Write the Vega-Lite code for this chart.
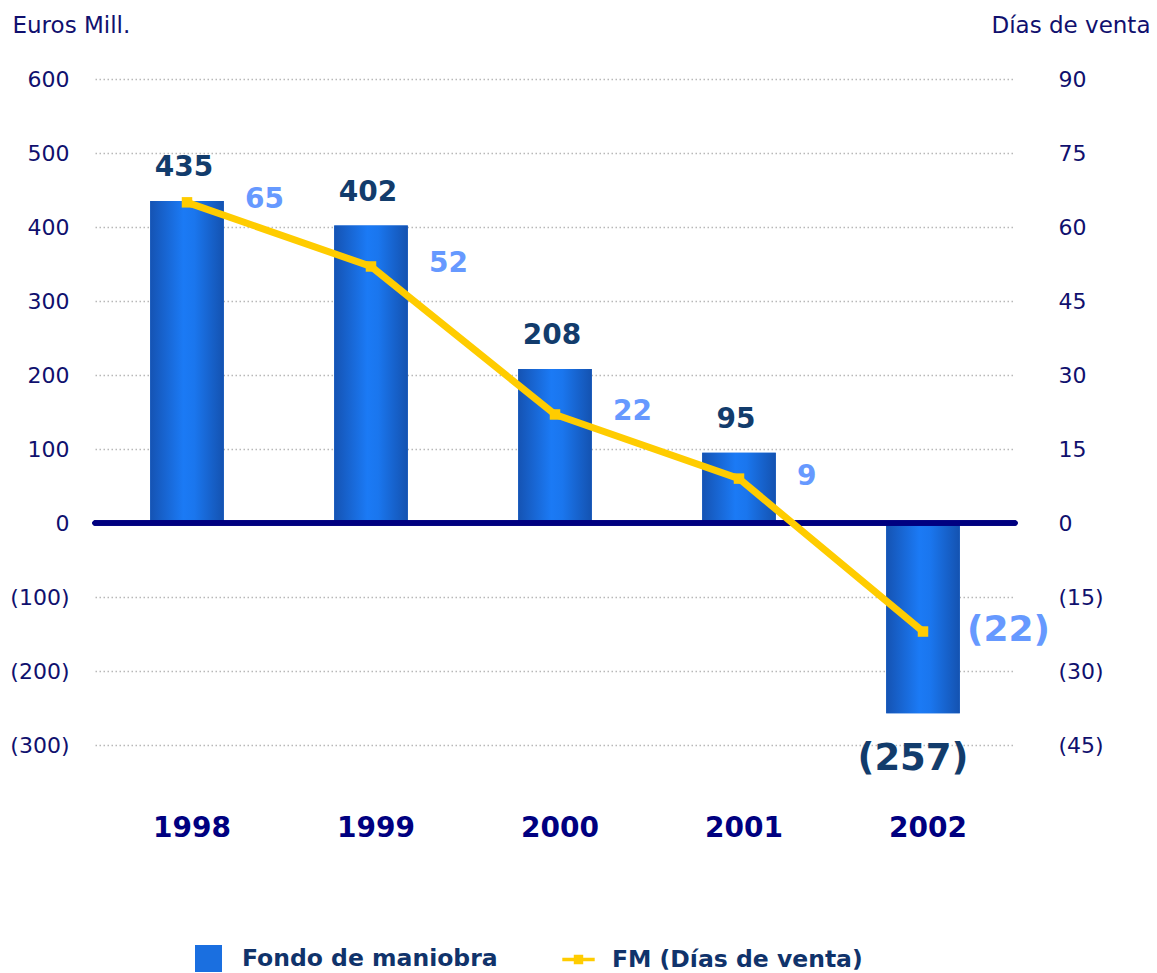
{
  "$schema": "https://vega.github.io/schema/vega-lite/v6.json",
  "width": 920,
  "height": 666,
  "autosize": {"type": "none"},
  "padding": {"left": 95, "top": 79, "right": 142, "bottom": 228},
  "background": "white",
  "config": {"view": {"stroke": null}, "font": "DejaVu Sans"},
  "data": {"values": [
    {"year": "1998", "fm": 435, "dias": 65},
    {"year": "1999", "fm": 402, "dias": 52},
    {"year": "2000", "fm": 208, "dias": 22},
    {"year": "2001", "fm": 95, "dias": 9},
    {"year": "2002", "fm": -257, "dias": -22}
  ]},
  "resolve": {"scale": {"y": "independent"}},
  "layer": [
    {
      "layer": [
        {
          "mark": {"type": "bar", "width": {"band": 0.4}},
          "encoding": {
            "x": {"field": "year", "type": "nominal", "scale": {"paddingInner": 0, "paddingOuter": 0},
              "axis": {"orient": "bottom", "title": null, "labelAngle": 0, "labelFont": "DejaVu Sans", "labelFontSize": 28, "labelFontWeight": "bold", "labelColor": "#000080", "labelPadding": 69, "labelOffset": 5, "ticks": false, "domain": false, "grid": false}},
            "y": {"field": "fm", "type": "quantitative", "scale": {"domain": [-300, 600], "nice": false, "zero": false},
              "axis": {"orient": "left", "values": [-300, -200, -100, 0, 100, 200, 300, 400, 500, 600], "format": "(d",
                "labelFont": "DejaVu Sans", "labelFontSize": 22, "labelColor": "#10106e", "labelPadding": 26, "ticks": false, "domain": false,
                "grid": true, "gridColor": "#b8b8b8", "gridDash": [1.5, 2.5], "gridWidth": 1.5,
                "title": "Euros Mill.", "titleAngle": 0, "titleAlign": "left", "titleBaseline": "alphabetic", "titleX": -83, "titleY": -47,
                "titleFont": "DejaVu Sans", "titleFontSize": 23, "titleFontWeight": "normal", "titleColor": "#10106e"}},
            "color": {"datum": "Fondo de maniobra", "type": "nominal",
              "scale": {"domain": ["Fondo de maniobra", "FM (Días de venta)"], "range": ["#1a6fe0", "#ffcc00"]},
              "legend": {"orient": "none", "legendX": 100, "legendY": 866, "direction": "horizontal", "title": null,
                "symbolSize": 729, "labelFont": "DejaVu Sans", "labelFontSize": 23.5, "labelFontWeight": "bold", "labelColor": "#10336b",
                "labelLimit": 500, "labelOffset": 20, "columnPadding": 64, "padding": 0,
                "encode": {"symbols": {"update": {
                  "shape": [{"test": "datum.value == 'Fondo de maniobra'", "value": "square"}, {"value": "M-1.2,-0.13H1.2V0.13H-1.2Z M-0.35,-0.35H0.35V0.35H-0.35Z"}],
                  "fill": [{"test": "datum.value == 'Fondo de maniobra'", "value": "#1a6fe0"}, {"value": "#ffcc00"}],
                  "stroke": {"value": "transparent"},
                  "strokeWidth": {"value": 0},
                  "opacity": {"value": 1}
                }}}}}
          }
        },
        {
          "mark": {"type": "bar", "width": {"band": 0.4},
            "fill": {"gradient": "linear", "x1": 0, "x2": 1, "y1": 0, "y2": 0, "stops": [{"offset": 0, "color": "#1553b3"}, {"offset": 0.45, "color": "#1b7af5"}, {"offset": 0.6, "color": "#1a76ee"}, {"offset": 1, "color": "#1452b0"}]}},
          "encoding": {
            "x": {"field": "year", "type": "nominal"},
            "y": {"field": "fm", "type": "quantitative"}
          }
        },
        {
          "mark": {"type": "rule", "color": "#000080", "strokeWidth": 5, "strokeCap": "round"},
          "encoding": {"y": {"datum": 0, "type": "quantitative"}}
        },
        {
          "transform": [{"filter": "datum.fm >= 0"}],
          "mark": {"type": "text", "font": "DejaVu Sans", "fontSize": 28, "fontWeight": "bold", "color": "#123c6c", "baseline": "alphabetic", "dy": -25, "dx": -3},
          "encoding": {
            "x": {"field": "year", "type": "nominal"},
            "y": {"field": "fm", "type": "quantitative"},
            "text": {"field": "fm", "type": "quantitative", "format": "(d"}
          }
        },
        {
          "transform": [{"filter": "datum.fm < 0"}],
          "mark": {"type": "text", "font": "DejaVu Sans", "fontSize": 37, "fontWeight": "bold", "color": "#123c6c", "baseline": "alphabetic", "dy": 57, "dx": -10},
          "encoding": {
            "x": {"field": "year", "type": "nominal"},
            "y": {"field": "fm", "type": "quantitative"},
            "text": {"field": "fm", "type": "quantitative", "format": "(d"}
          }
        }
      ]
    },
    {
      "layer": [
        {
          "mark": {"type": "line", "strokeWidth": 7, "point": {"shape": "square", "size": 110, "filled": true}},
          "encoding": {
            "x": {"field": "year", "type": "nominal"},
            "y": {"field": "dias", "type": "quantitative", "scale": {"domain": [-45, 90], "nice": false, "zero": false},
              "axis": {"orient": "right", "values": [-45, -30, -15, 0, 15, 30, 45, 60, 75, 90], "format": "(d",
                "labelFont": "DejaVu Sans", "labelFontSize": 22, "labelColor": "#10106e", "labelPadding": 43, "labelAlign": "left", "ticks": false, "domain": false, "grid": false,
                "title": "Días de venta", "titleAngle": 0, "titleAlign": "right", "titleBaseline": "alphabetic", "titleX": 135, "titleY": -47,
                "titleFont": "DejaVu Sans", "titleFontSize": 23, "titleFontWeight": "normal", "titleColor": "#10106e"}},
            "color": {"datum": "FM (Días de venta)", "type": "nominal"}
          }
        },
        {
          "transform": [{"filter": "datum.dias >= 0"}],
          "mark": {"type": "text", "font": "DejaVu Sans", "fontSize": 28, "fontWeight": "bold", "color": "#6699ff", "align": "left", "baseline": "middle", "dx": 58, "dy": -2},
          "encoding": {
            "x": {"field": "year", "type": "nominal"},
            "y": {"field": "dias", "type": "quantitative", "title": "Días de venta"},
            "text": {"field": "dias", "type": "quantitative", "format": "(d"}
          }
        },
        {
          "transform": [{"filter": "datum.dias < 0"}],
          "mark": {"type": "text", "font": "DejaVu Sans", "fontSize": 36, "fontWeight": "bold", "color": "#6699ff", "align": "left", "baseline": "middle", "dx": 44, "dy": -2},
          "encoding": {
            "x": {"field": "year", "type": "nominal"},
            "y": {"field": "dias", "type": "quantitative", "title": "Días de venta"},
            "text": {"field": "dias", "type": "quantitative", "format": "(d"}
          }
        }
      ]
    }
  ]
}
